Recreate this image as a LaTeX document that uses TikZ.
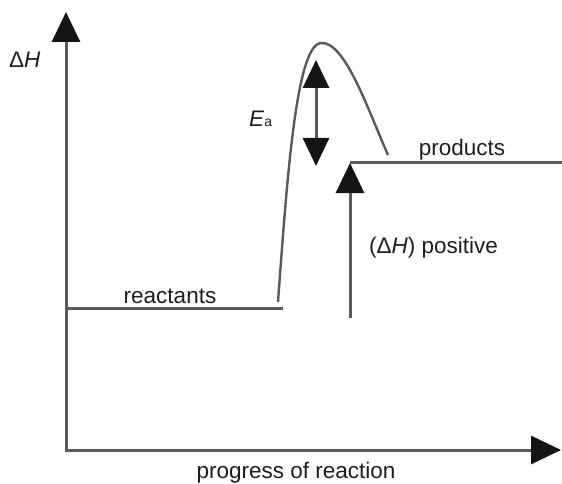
\documentclass[tikz,border=0pt]{standalone}
\usepackage{fontspec}
\setmainfont{Liberation Sans}
\usetikzlibrary{arrows.meta}
\definecolor{linegray}{HTML}{5A5A5A}
\definecolor{tipc}{HTML}{151515}
\definecolor{txt}{HTML}{1E1E1E}
\begin{document}
\begin{tikzpicture}[x=1pt,y=-1pt,
  lbl/.style={inner sep=0pt,text=txt,font=\fontsize{22.5}{26}\selectfont},
  gline/.style={draw=linegray,line width=3pt},
  bigtip/.style={-{Triangle[length=30pt,width=28pt,color=tipc]}},
  bothtip/.style={{Triangle[length=28pt,width=26pt,color=tipc]}-{Triangle[length=28pt,width=26pt,color=tipc]}},
]
\useasboundingbox (0,0) rectangle (562,484);
\fill[white] (0,0) rectangle (562,484);
% axes
\coordinate (O) at (66,450);
\coordinate (ytop) at (66,12);
\coordinate (xstart) at (64.5,450);
\coordinate (xend) at (561,450);
\draw[gline,bigtip] (O) -- (ytop);
\draw[gline,bigtip] (xstart) -- (xend);
% levels
\coordinate (rL) at (64.5,308);
\coordinate (rR) at (283,308);
\coordinate (pL) at (350,162);
\coordinate (pR) at (562,162);
\draw[gline] (rL) -- (rR);
\draw[gline] (pL) -- (pR);
% curve
\coordinate (cS) at (278,302);
\coordinate (peak) at (321,43);
\coordinate (cE) at (388,155);
\draw[draw=linegray,line width=2.4pt] (cS) .. controls (287,180) and (296,45) .. (peak)
  .. controls (345,41) and (368,110) .. (cE);
% Ea arrow
\coordinate (eaT) at (316,60);
\coordinate (eaB) at (316,166);
\draw[gline,bothtip] (eaT) -- (eaB);
% Delta H arrow
\coordinate (dhB) at (350,318);
\coordinate (dhT) at (350,163);
\draw[gline,bigtip] (dhB) -- (dhT);
% labels
\node[lbl,anchor=base west] (ylab) at (9,68) {Δ\textit{H}};
\node[lbl,anchor=base west] (ea) at (249,127) {\textit{E}{\fontsize{14}{16}\selectfont a}};
\node[lbl,anchor=base] (prod) at (462,155) {products};
\node[lbl,anchor=base] (react) at (170,303) {reactants};
\node[lbl,anchor=base west] (dh) at (369,253) {(Δ\textit{H}) positive};
\node[lbl,anchor=base] (xlab) at (296,478) {progress of reaction};
\end{tikzpicture}
\end{document}
